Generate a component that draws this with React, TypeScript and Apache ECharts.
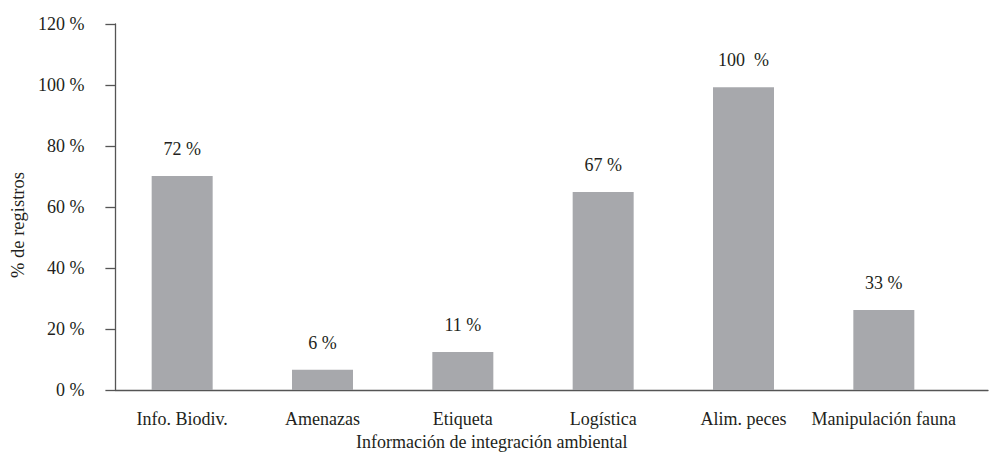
import React, { useEffect, useRef } from "react";
import * as echarts from "echarts";

const categories = ["Info. Biodiv.", "Amenazas", "Etiqueta", "Logística", "Alim. peces", "Manipulación fauna"];
const barValues = [70.2, 6.6, 12.5, 64.9, 99.3, 26.2];
const barLabels = ["72 %", "6 %", "11 %", "67 %", "100  %", "33 %"];
const yTicks = [0, 20, 40, 60, 80, 100, 120];
const yName = "% de registros";
const xName = "Información de integración ambiental";

const FONT = "'Liberation Serif', 'Times New Roman', serif";
const TXT = "#231f20";

export default function App() {
  const ref = useRef<HTMLDivElement>(null);
  useEffect(() => {
    if (!ref.current) return;
    const chart = echarts.init(ref.current, undefined, { renderer: "svg" });
    chart.setOption({
      animation: false,
      backgroundColor: "#ffffff",
      textStyle: { fontFamily: FONT, color: TXT },
      grid: [
        { left: 103, right: 1, top: 24, bottom: 63 },
        { left: 112, width: 842, top: 24, bottom: 63 },
      ],
      xAxis: [
        {
          gridIndex: 0,
          type: "value",
          min: 0,
          max: 1,
          axisLine: { show: true, lineStyle: { color: "#555555", width: 1.3 } },
          axisTick: { show: false },
          axisLabel: { show: false },
          splitLine: { show: false },
        },
        {
          gridIndex: 1,
          type: "category",
          data: categories,
          axisLine: { show: false },
          axisTick: { show: false },
          axisLabel: {
            margin: 20,
            fontSize: 18,
            fontFamily: FONT,
            color: TXT,
            interval: 0,
          },
        },
      ],
      yAxis: [
        {
          gridIndex: 0,
          type: "value",
          min: yTicks[0],
          max: yTicks[yTicks.length - 1],
          interval: 20,
          name: yName,
          nameLocation: "middle",
          nameGap: 86,
          nameTextStyle: { fontSize: 18.5, fontFamily: FONT, color: TXT, padding: [0, 36, 0, 0] },
          axisLine: { show: true, lineStyle: { color: "#555555", width: 1.3 } },
          axisTick: { show: true, inside: false, length: 10, lineStyle: { color: "#555555", width: 1.3 } },
          axisLabel: {
            margin: 31,
            fontSize: 18,
            fontFamily: FONT,
            color: TXT,
            formatter: (v: number) => `${v} %`,
          },
          splitLine: { show: false },
        },
        {
          gridIndex: 1,
          type: "value",
          min: yTicks[0],
          max: yTicks[yTicks.length - 1],
          interval: 20,
          show: false,
          splitLine: { show: false },
        },
      ],
      graphic: [
        {
          type: "text",
          left: 496 - 140,
          top: 433,
          style: { text: xName, fontSize: 18, fontFamily: FONT, fill: TXT },
        },
      ],
      series: [
        {
          type: "bar",
          xAxisIndex: 1,
          yAxisIndex: 1,
          data: barValues,
          barWidth: 61,
          itemStyle: { color: "#a7a8ac" },
          label: {
            show: true,
            position: "top",
            distance: 18,
            fontSize: 18,
            fontFamily: FONT,
            color: TXT,
            formatter: (p: any) => barLabels[p.dataIndex],
          },
        },
      ],
    });
    return () => chart.dispose();
  }, []);
  return <div ref={ref} style={{ width: 989, height: 453, position: "absolute", left: 0, top: 0 }} />;
}
